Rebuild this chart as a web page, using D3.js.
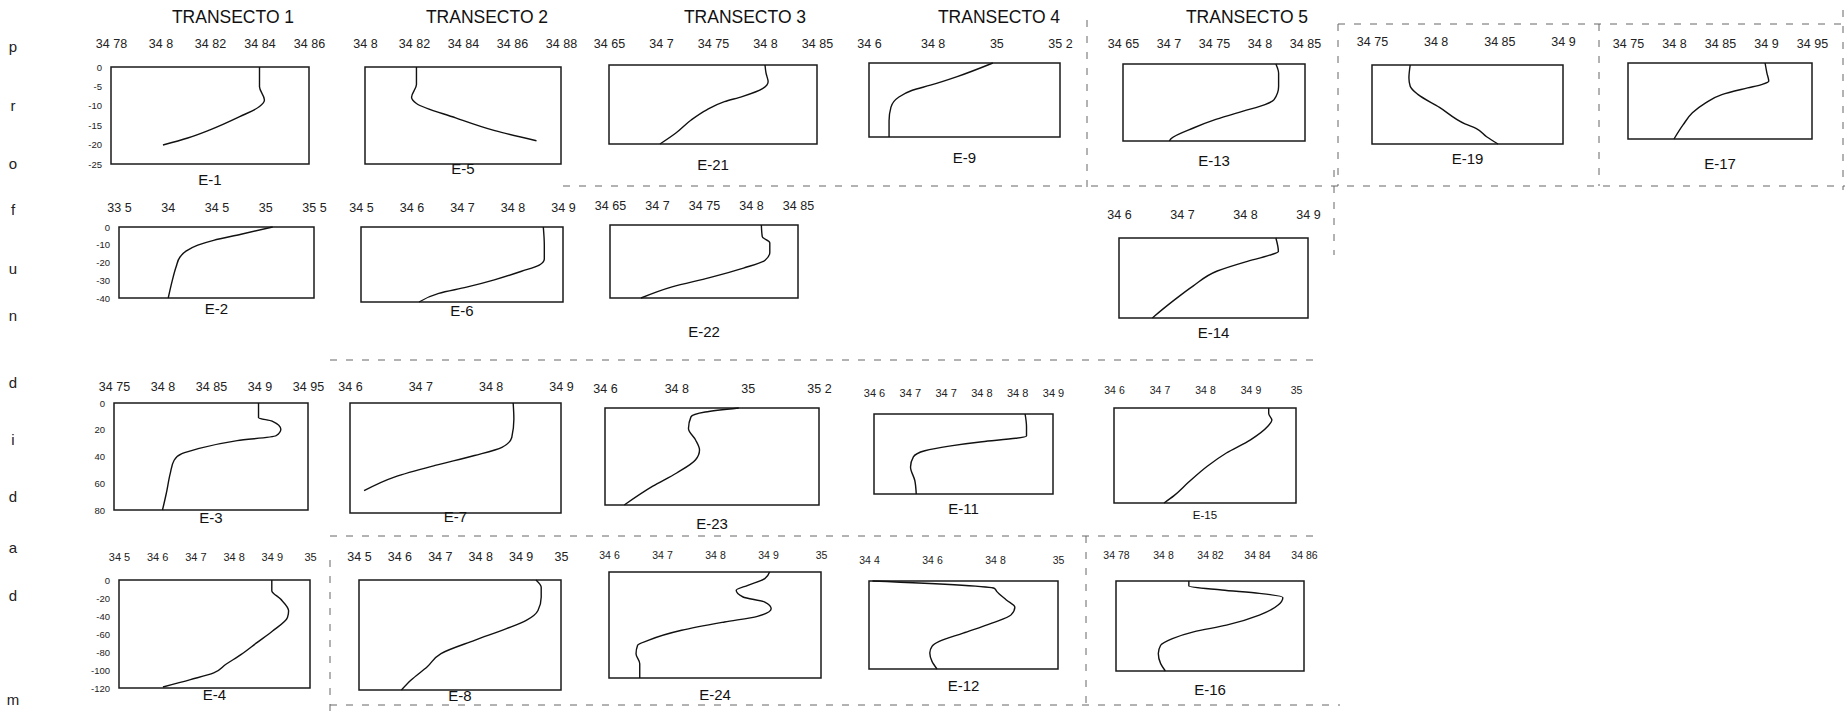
<!DOCTYPE html>
<html>
<head>
<meta charset="utf-8">
<script src="https://cdn.jsdelivr.net/npm/d3@7"></script>
<style>
  body { margin: 0; background: #fff; }
  svg { font-family: "Liberation Sans", Arial, sans-serif; }
  .tick text { fill: #222; }
</style>
</head>
<body>
<div id="plotdiv"></div>
<script>
// Size of the figure
var outerWidth = 1848;
var outerHeight = 718;

// Column titles and the vertical "profundidad m" letters
var transectos = ["TRANSECTO 1", "TRANSECTO 2", "TRANSECTO 3", "TRANSECTO 4", "TRANSECTO 5"];
var sideLetters = ["p", "r", "o", "f", "u", "n", "d", "i", "d", "a", "d", "m"];

// Depth ticks (m) for each row of panels
var depthTicksR1 = [0, 5, 10, 15, 20, 25];
var depthTicksR2 = [0, 10, 20, 30, 40];
var depthTicksR3 = [0, 20, 40, 60, 80];
var depthTicksR4 = [0, 20, 40, 60, 80, 100, 120];

// Salinity ticks of every station (top axis)
var ticksE1  = [34.78, 34.8, 34.82, 34.84, 34.86];
var ticksE5  = [34.8, 34.82, 34.84, 34.86, 34.88];
var ticksE21 = [34.65, 34.7, 34.75, 34.8, 34.85];
var ticksE9  = [34.6, 34.8, 35, 35.2];
var ticksE13 = [34.65, 34.7, 34.75, 34.8, 34.85];
var ticksE19 = [34.75, 34.8, 34.85, 34.9];
var ticksE17 = [34.75, 34.8, 34.85, 34.9, 34.95];
var ticksE2  = [33.5, 34, 34.5, 35, 35.5];
var ticksE6  = [34.5, 34.6, 34.7, 34.8, 34.9];
var ticksE22 = [34.65, 34.7, 34.75, 34.8, 34.85];
var ticksE14 = [34.6, 34.7, 34.8, 34.9];
var ticksE3  = [34.75, 34.8, 34.85, 34.9, 34.95];
var ticksE7  = [34.6, 34.7, 34.8, 34.9];
var ticksE23 = [34.6, 34.8, 35, 35.2];
var ticksE11 = [34.6, 34.65, 34.7, 34.75, 34.8, 34.85];
var labelsE11 = ["34 6", "34 7", "34 7", "34 8", "34 8", "34 9"];
var ticksE15 = [34.6, 34.7, 34.8, 34.9, 35];
var ticksE4  = [34.5, 34.6, 34.7, 34.8, 34.9, 35];
var ticksE8  = [34.5, 34.6, 34.7, 34.8, 34.9, 35];
var ticksE24 = [34.6, 34.7, 34.8, 34.9, 35];
var ticksE12 = [34.4, 34.6, 34.8, 35];
var ticksE16 = [34.78, 34.8, 34.82, 34.84, 34.86];

// Profiles: depth (m) and salinity
var depE1  = [0, 5.1, 8.5, 10.2, 12.8, 16.2, 18.3, 20.1];
var salE1  = [34.840, 34.840, 34.842, 34.840, 34.832, 34.820, 34.811, 34.801];
var depE5  = [0, 4.5, 7.8, 9.4, 13.1, 16.4, 19.0];
var salE5  = [34.821, 34.821, 34.819, 34.821, 34.837, 34.853, 34.870];
var depE21 = [0, 2.6, 5.3, 7.4, 10.0, 11.6, 14.2, 17.4, 21.6, 25];
var salE21 = [34.800, 34.801, 34.803, 34.798, 34.778, 34.761, 34.744, 34.729, 34.714, 34.699];
var depE9  = [0, 4.6, 7.5, 9.2, 11.5, 14.9, 19.5, 25];
var salE9  = [34.989, 34.877, 34.793, 34.736, 34.694, 34.669, 34.663, 34.663];
var depE13 = [0, 3.0, 7.3, 11.6, 13.2, 15.3, 18.0, 20.7, 24.2, 25];
var salE13 = [34.818, 34.821, 34.821, 34.816, 34.806, 34.782, 34.752, 34.728, 34.703, 34.701];
var depE19 = [0, 4.1, 6.7, 9.3, 13.4, 18.6, 20.1, 22.7, 25];
var salE19 = [34.780, 34.779, 34.780, 34.786, 34.803, 34.823, 34.832, 34.840, 34.849];
var depE17 = [0, 3.3, 6.0, 7.1, 8.2, 10.4, 13.2, 16.4, 20.3, 25];
var salE17 = [34.899, 34.901, 34.903, 34.895, 34.880, 34.852, 34.834, 34.820, 34.810, 34.800];
var depE2  = [0, 4.1, 7.5, 10.2, 13.6, 16.9, 22.4, 30.5, 40];
var salE2  = [35.076, 34.752, 34.470, 34.308, 34.187, 34.126, 34.086, 34.045, 34.005];
var depE6  = [0, 9.8, 17.0, 20.3, 23.6, 28.2, 32.1, 35.4, 40];
var salE6  = [34.861, 34.863, 34.863, 34.853, 34.818, 34.764, 34.709, 34.654, 34.615];
var depE22 = [0, 6.4, 9.8, 15.0, 19.3, 23.6, 28.8, 33.9, 40];
var salE22 = [34.811, 34.812, 34.820, 34.820, 34.815, 34.792, 34.756, 34.716, 34.683];
var depE14 = [0, 6.8, 8.6, 11.9, 16.5, 23.9, 31.2, 38.9, 40];
var salE14 = [34.849, 34.853, 34.839, 34.801, 34.756, 34.718, 34.687, 34.657, 34.653];
var depE3  = [0, 11.0, 13.5, 19.6, 24.5, 28.1, 34.3, 37.9, 42.8, 52.6, 67.3, 80];
var salE3  = [34.899, 34.899, 34.913, 34.922, 34.917, 34.877, 34.836, 34.820, 34.812, 34.808, 34.804, 34.800];
var depE7  = [0, 11.9, 25.1, 32.2, 38.2, 45.4, 53.7, 63.8];
var salE7  = [34.832, 34.833, 34.830, 34.816, 34.777, 34.721, 34.664, 34.620];
var depE23 = [0, 3.3, 7.3, 16.9, 26.4, 34.6, 42.7, 53.6, 64.5, 80];
var salE23 = [34.975, 34.881, 34.841, 34.834, 34.854, 34.865, 34.854, 34.801, 34.734, 34.654];
var depE11 = [0, 12.5, 21.9, 24.3, 27.7, 32.1, 36.8, 42.9, 53.0, 66.5, 80];
var salE11 = [34.811, 34.813, 34.813, 34.798, 34.751, 34.705, 34.671, 34.655, 34.651, 34.657, 34.659];
var depE15 = [0, 4.7, 10.2, 15.8, 26.8, 37.9, 49.0, 62.8, 73.8, 80];
var salE15 = [34.940, 34.940, 34.947, 34.937, 34.900, 34.847, 34.805, 34.763, 34.732, 34.710];
var depE4  = [0, 11.9, 21.2, 34.3, 41.7, 56.6, 69.6, 82.7, 93.9, 103.2, 110.7, 118.9];
var salE4  = [34.900, 34.900, 34.923, 34.944, 34.941, 34.902, 34.861, 34.820, 34.779, 34.748, 34.687, 34.615];
var depE8  = [0, 8.0, 18.8, 33.3, 44.1, 53.1, 65.8, 80.2, 94.7, 109.2, 120];
var salE8  = [34.938, 34.951, 34.951, 34.943, 34.914, 34.865, 34.786, 34.703, 34.669, 34.629, 34.605];
var depE24 = [0, 7.5, 15.1, 20.8, 28.3, 34.0, 41.5, 50.2, 56.6, 66.0, 77.4, 83.0, 92.5, 103.8, 120];
var salE24 = [34.903, 34.894, 34.862, 34.840, 34.853, 34.894, 34.906, 34.880, 34.818, 34.737, 34.674, 34.654, 34.651, 34.658, 34.658];
var depE12 = [0, 10.0, 14.5, 25.8, 35.8, 46.2, 57.5, 71.1, 82.4, 89.2, 98.2, 109.6, 120];
var salE12 = [34.411, 34.798, 34.806, 34.836, 34.863, 34.851, 34.790, 34.699, 34.623, 34.600, 34.593, 34.600, 34.616];
var depE16 = [0, 6.7, 12.0, 16.5, 21.9, 32.1, 45.5, 58.9, 67.8, 76.8, 85.7, 96.8, 110.2, 120];
var salE16 = [34.811, 34.811, 34.825, 34.841, 34.851, 34.849, 34.841, 34.827, 34.813, 34.804, 34.799, 34.798, 34.799, 34.801];

// Panel placement (pixels) - boxes, tick row and station label rows
var panels = [
  {name: "E-1",  x0: 111,  x1: 309,  y0: 67,  y1: 164, tickY: 44,  labY: 180, ticks: ticksE1,  dep: depE1,  sal: salE1,  dTicks: depthTicksR1, maxD: 25, yAxis: true, neg: true},
  {name: "E-5",  x0: 365,  x1: 561,  y0: 67,  y1: 164, tickY: 44,  labY: 169, ticks: ticksE5,  dep: depE5,  sal: salE5,  maxD: 25},
  {name: "E-21", x0: 609,  x1: 817,  y0: 65,  y1: 144, tickY: 44,  labY: 165, ticks: ticksE21, dep: depE21, sal: salE21, maxD: 25},
  {name: "E-9",  x0: 869,  x1: 1060, y0: 63,  y1: 137, tickY: 44,  labY: 158, ticks: ticksE9,  dep: depE9,  sal: salE9,  maxD: 25},
  {name: "E-13", x0: 1123, x1: 1305, y0: 64,  y1: 141, tickY: 44,  labY: 161, ticks: ticksE13, dep: depE13, sal: salE13, maxD: 25},
  {name: "E-19", x0: 1372, x1: 1563, y0: 65,  y1: 144, tickY: 42,  labY: 159, ticks: ticksE19, dep: depE19, sal: salE19, maxD: 25},
  {name: "E-17", x0: 1628, x1: 1812, y0: 63,  y1: 139, tickY: 44,  labY: 164, ticks: ticksE17, dep: depE17, sal: salE17, maxD: 25},
  {name: "E-2",  x0: 119,  x1: 314,  y0: 227, y1: 298, tickY: 208, labY: 309, ticks: ticksE2,  dep: depE2,  sal: salE2,  dTicks: depthTicksR2, maxD: 40, yAxis: true, neg: true},
  {name: "E-6",  x0: 361,  x1: 563,  y0: 227, y1: 302, tickY: 208, labY: 311, ticks: ticksE6,  dep: depE6,  sal: salE6,  maxD: 40},
  {name: "E-22", x0: 610,  x1: 798,  y0: 225, y1: 298, tickY: 206, labY: 332, ticks: ticksE22, dep: depE22, sal: salE22, maxD: 40},
  {name: "E-14", x0: 1119, x1: 1308, y0: 238, y1: 318, tickY: 215, labY: 333, ticks: ticksE14, dep: depE14, sal: salE14, maxD: 40},
  {name: "E-3",  x0: 114,  x1: 308,  y0: 403, y1: 510, tickY: 387, labY: 518, ticks: ticksE3,  dep: depE3,  sal: salE3,  dTicks: depthTicksR3, maxD: 80, yAxis: true, neg: false},
  {name: "E-7",  x0: 350,  x1: 561,  y0: 403, y1: 513, tickY: 387, labY: 517, ticks: ticksE7,  dep: depE7,  sal: salE7,  maxD: 80},
  {name: "E-23", x0: 605,  x1: 819,  y0: 408, y1: 505, tickY: 389, labY: 524, ticks: ticksE23, dep: depE23, sal: salE23, maxD: 80},
  {name: "E-11", x0: 874,  x1: 1053, y0: 414, y1: 494, tickY: 393, labY: 509, ticks: ticksE11, dep: depE11, sal: salE11, maxD: 80, labels: labelsE11, fs: 11},
  {name: "E-15", x0: 1114, x1: 1296, y0: 408, y1: 503, tickY: 390, labY: 515, ticks: ticksE15, dep: depE15, sal: salE15, maxD: 80, fs: 10.5, lfs: 11.5},
  {name: "E-4",  x0: 119,  x1: 310,  y0: 580, y1: 688, tickY: 557, labY: 695, ticks: ticksE4,  dep: depE4,  sal: salE4,  dTicks: depthTicksR4, maxD: 120, yAxis: true, neg: true, fs: 11},
  {name: "E-8",  x0: 359,  x1: 561,  y0: 580, y1: 690, tickY: 557, labY: 696, ticks: ticksE8,  dep: depE8,  sal: salE8,  maxD: 120},
  {name: "E-24", x0: 609,  x1: 821,  y0: 572, y1: 678, tickY: 555, labY: 695, ticks: ticksE24, dep: depE24, sal: salE24, maxD: 120, fs: 10.5},
  {name: "E-12", x0: 869,  x1: 1058, y0: 581, y1: 669, tickY: 560, labY: 686, ticks: ticksE12, dep: depE12, sal: salE12, maxD: 120, fs: 10.5},
  {name: "E-16", x0: 1116, x1: 1304, y0: 581, y1: 671, tickY: 555, labY: 690, ticks: ticksE16, dep: depE16, sal: salE16, maxD: 120, fs: 10.5}
];

// Title and side-letter positions
var titleX = [233, 487, 745, 999, 1247];
var letterY = [47, 106, 164, 210, 269, 316, 383, 440, 497, 548, 596, 700];

// Scan cut lines (dashed) around the pasted panels
var cutLines = [
  [1087, 20, 1087, 190], [1338, 24, 1338, 186], [1599, 24, 1599, 186], [1843, 10, 1843, 190],
  [1338, 24, 1848, 24], [563, 186, 1845, 186], [330, 360, 1315, 360], [330, 536, 1320, 536],
  [1086, 536, 1086, 705], [330, 705, 1340, 705], [330, 560, 330, 718], [1334, 170, 1334, 255]
];

var vis = d3.select("#plotdiv").append("svg")
  .attr("width", outerWidth)
  .attr("height", outerHeight);

vis.append("rect").attr("width", outerWidth).attr("height", outerHeight).attr("fill", "#fff");

// cut lines first, so they sit under everything
vis.selectAll("line.cut").data(cutLines).enter().append("line")
  .attr("class", "cut")
  .attr("x1", function(d) { return d[0]; })
  .attr("y1", function(d) { return d[1]; })
  .attr("x2", function(d) { return d[2]; })
  .attr("y2", function(d) { return d[3]; })
  .attr("stroke", "#666")
  .attr("stroke-width", 1)
  .attr("stroke-dasharray", "7,9");

// Titles
vis.selectAll("text.title").data(transectos).enter().append("text")
  .attr("class", "title")
  .attr("x", function(d, i) { return titleX[i]; })
  .attr("y", 23)
  .attr("text-anchor", "middle")
  .attr("font-size", 17.5)
  .attr("fill", "#111")
  .text(function(d) { return d; });

// Side letters
vis.selectAll("text.side").data(sideLetters).enter().append("text")
  .attr("class", "side")
  .attr("x", 13)
  .attr("y", function(d, i) { return letterY[i] + 5; })
  .attr("text-anchor", "middle")
  .attr("font-size", 15)
  .attr("fill", "#222")
  .text(function(d) { return d; });

function fmtSal(v) {
  return String(v).replace(".", " ");
}

// Draw one station panel
function drawPanel(p) {
  var g = vis.append("g").attr("class", "panel");

  var xScale = d3.scaleLinear()
    .domain([p.ticks[0], p.ticks[p.ticks.length - 1]])
    .range([p.x0, p.x1]);
  var yScale = d3.scaleLinear()
    .domain([0, p.maxD])
    .range([p.y0, p.y1]);

  // top axis - labels only
  var axisX = d3.axisTop(xScale)
    .tickValues(p.ticks)
    .tickSize(0)
    .tickPadding(0)
    .tickFormat(function(d, i) { return p.labels ? p.labels[i] : fmtSal(d); });
  var gx = g.append("g")
    .attr("transform", "translate(0," + p.tickY + ")")
    .call(axisX);
  gx.select(".domain").remove();
  gx.selectAll("text")
    .attr("dy", "0.35em")
    .attr("font-size", p.fs || 12.5)
    .attr("font-family", "Liberation Sans, Arial, sans-serif");

  // left axis, first column only
  if (p.yAxis) {
    var axisY = d3.axisLeft(yScale)
      .tickValues(p.dTicks)
      .tickSize(0)
      .tickPadding(9)
      .tickFormat(function(d) { return (d === 0 || !p.neg) ? String(d) : "-" + d; });
    var gy = g.append("g")
      .attr("transform", "translate(" + p.x0 + ",0)")
      .call(axisY);
    gy.select(".domain").remove();
    gy.selectAll("text")
      .attr("font-size", 9.5)
      .attr("font-family", "Liberation Sans, Arial, sans-serif");
  }

  // plot box
  g.append("rect")
    .attr("x", xScale(p.ticks[0]))
    .attr("y", yScale(0))
    .attr("width", xScale(p.ticks[p.ticks.length - 1]) - xScale(p.ticks[0]))
    .attr("height", yScale(p.maxD) - yScale(0))
    .attr("fill", "none")
    .attr("stroke", "#1a1a1a")
    .attr("stroke-width", 1.5);

  // salinity profile
  var pts = p.dep.map(function(d, i) { return {d: d, s: p.sal[i]}; });
  var line = d3.line()
    .x(function(d) { return xScale(d.s); })
    .y(function(d) { return yScale(d.d); })
    .curve(d3.curveMonotoneY);
  g.append("path")
    .datum(pts)
    .attr("d", line)
    .attr("fill", "none")
    .attr("stroke", "#111")
    .attr("stroke-width", 1.4);

  // station label
  g.append("text")
    .attr("x", (p.x0 + p.x1) / 2)
    .attr("y", p.labY)
    .attr("dy", "0.35em")
    .attr("text-anchor", "middle")
    .attr("font-size", p.lfs || 15)
    .attr("fill", "#111")
    .text(p.name);
}

panels.forEach(drawPanel);
</script>
</body>
</html>
